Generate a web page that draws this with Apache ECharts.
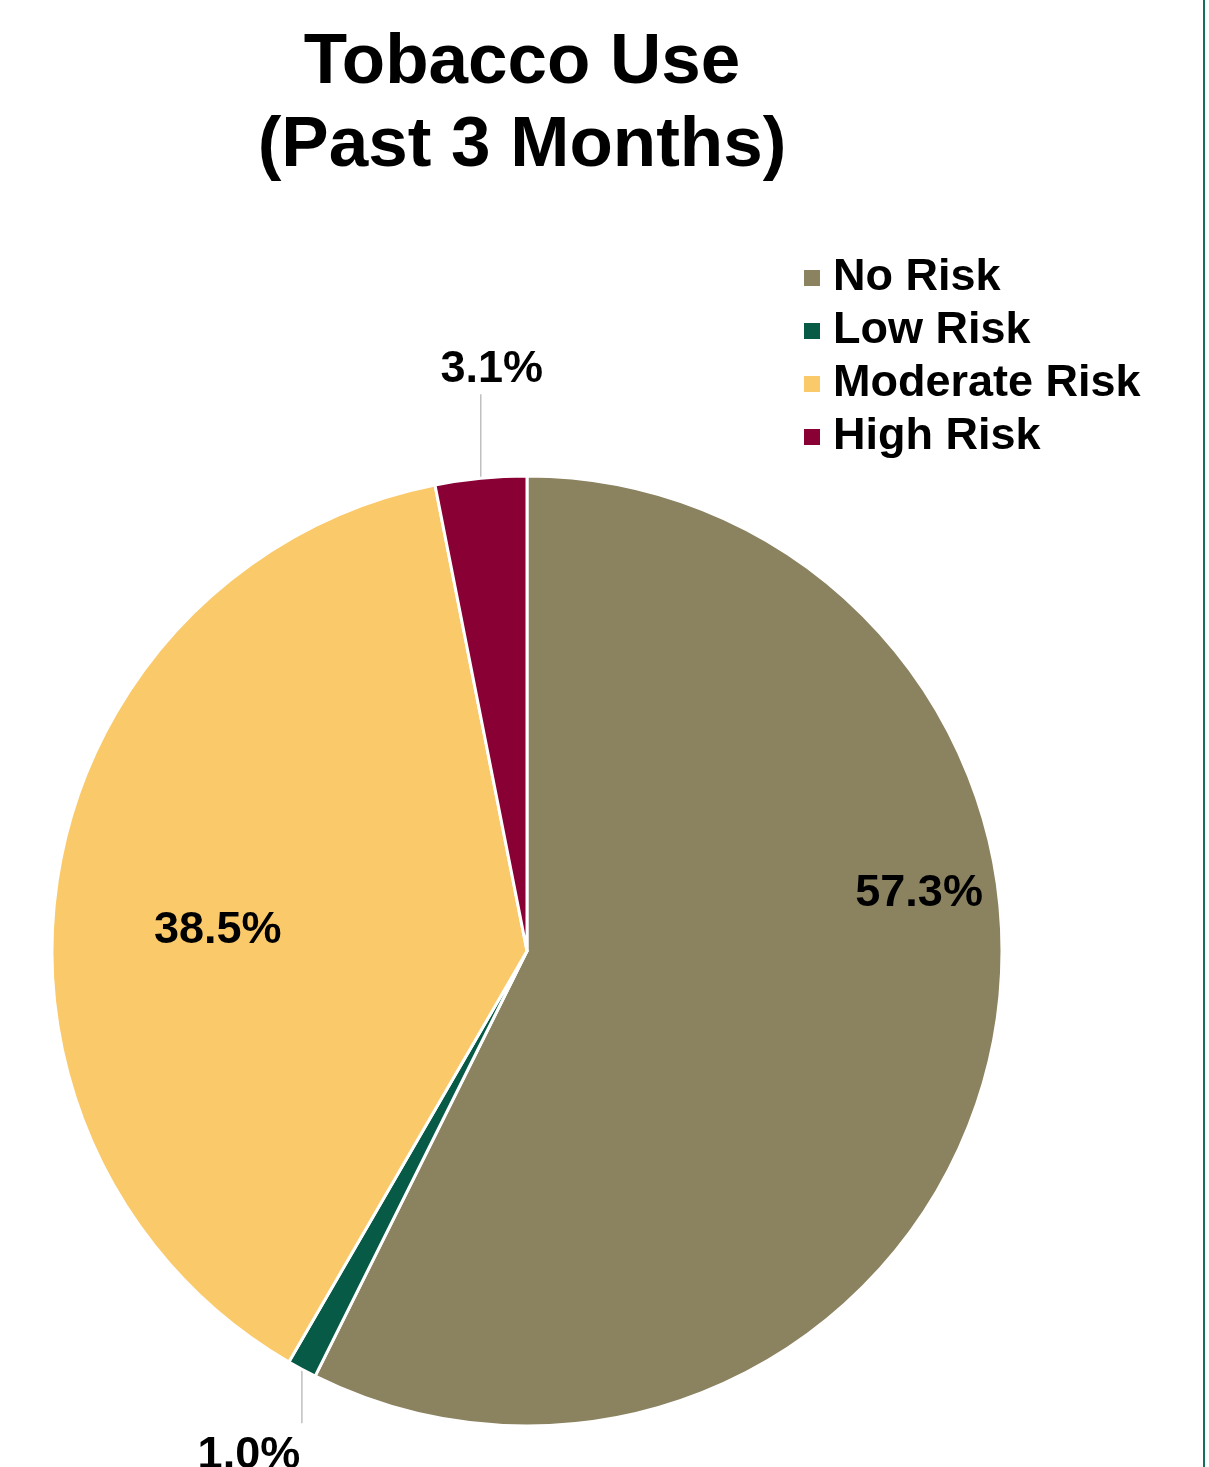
<!DOCTYPE html>
<html>
<head>
<meta charset="utf-8">
<title>Tobacco Use (Past 3 Months)</title>
<script src="https://cdn.jsdelivr.net/npm/echarts@6/dist/echarts.min.js"></script>
<style>
  html, body { margin: 0; padding: 0; background: #ffffff; }
  #chart { width: 1209px; height: 1467px; }
</style>
</head>
<body>
<div id="chart"></div>
<script>
// Risk levels and their shares (percent)
const categories = ['No Risk', 'Low Risk', 'Moderate Risk', 'High Risk'];
const shares = [57.3, 1.0, 38.5, 3.1];
const sliceColors = ['#8b8260', '#075a45', '#fac96a', '#890035'];

// Where each value label sits: inside labels are nudged from their default spot,
// outside labels hang off a short vertical leader line from the slice edge.
const labelPlacement = {
  'No Risk':       { kind: 'inside', dx: 158, dy: -113 },
  'Moderate Risk': { kind: 'inside', dx: -72, dy: 19 },
  'High Risk':     { kind: 'outside', lineLen: -84, dx: 11, dy: -109 },
  'Low Risk':      { kind: 'outside', lineLen: 54, dx: -53, dy: 86 }
};

const FONT = '"Liberation Sans", Arial, Helvetica, sans-serif';

const chart = echarts.init(document.getElementById('chart'), null, { renderer: 'canvas' });

const pieData = categories.map((name, i) => {
  const place = labelPlacement[name];
  return {
    name: name,
    value: shares[i],
    itemStyle: { color: sliceColors[i] },
    label: { position: place.kind === 'inside' ? 'inside' : 'outside' },
    labelLine: { show: place.kind !== 'inside' }
  };
});

chart.setOption({
  backgroundColor: '#ffffff',
  animation: false,
  title: {
    text: 'Tobacco Use\n(Past 3 Months)',
    left: 522,
    top: 22,
    padding: 0,
    textAlign: 'center',
    textStyle: {
      fontFamily: FONT,
      fontWeight: 'bold',
      fontSize: 71,
      lineHeight: 83,
      color: '#000000'
    }
  },
  legend: {
    orient: 'vertical',
    left: 802,
    top: 255,
    padding: 0,
    icon: 'rect',
    itemWidth: 18,
    itemHeight: 18,
    itemGap: 7,
    selectedMode: false,
    data: categories,
    textStyle: {
      fontFamily: FONT,
      fontWeight: 'bold',
      fontSize: 45,
      lineHeight: 46,
      color: '#000000',
      padding: [0, 0, 0, 7]
    }
  },
  graphic: [{
    type: 'line',
    shape: { x1: 1204, y1: 0, x2: 1204, y2: 1467 },
    style: { stroke: '#13705a', lineWidth: 2 },
    z: 10
  }],
  series: [{
    type: 'pie',
    center: [527, 951],
    radius: 475,
    startAngle: 90,
    clockwise: true,
    avoidLabelOverlap: false,
    emphasis: { disabled: true },
    itemStyle: { borderColor: '#ffffff', borderWidth: 3 },
    label: {
      show: true,
      formatter: p => p.value.toFixed(1) + '%',
      fontFamily: FONT,
      fontWeight: 'bold',
      fontSize: 45,
      color: '#000000'
    },
    labelLine: {
      length: 30,
      length2: 0,
      lineStyle: { color: '#bfbfbf', width: 1.5 }
    },
    labelLayout: function (p) {
      const name = categories[p.dataIndex];
      const place = labelPlacement[name];
      if (!place) return {};
      if (place.kind === 'inside') {
        return { dx: place.dx, dy: place.dy };
      }
      const anchor = p.labelLinePoints && p.labelLinePoints[0];
      if (!anchor) return {};
      const ax = anchor[0], ay = anchor[1];
      const end = [ax, ay + place.lineLen];
      return {
        x: ax + place.dx,
        y: ay + place.dy,
        align: 'center',
        verticalAlign: 'middle',
        labelLinePoints: [[ax, ay], end, end]
      };
    },
    data: pieData
  }]
});
</script>
</body>
</html>
